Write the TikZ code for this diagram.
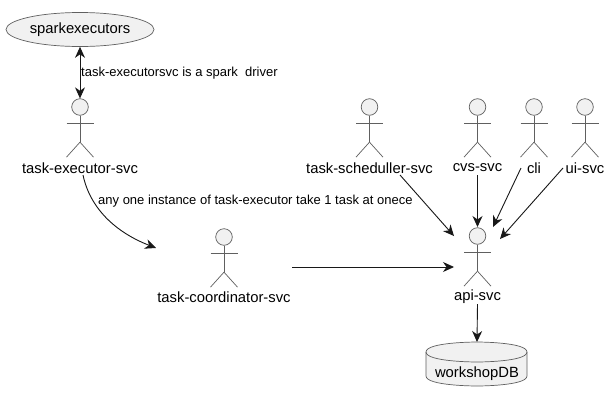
\documentclass[tikz,border=0pt]{standalone}
\usepackage{fontspec}
\setmainfont{Liberation Sans}
\usetikzlibrary{shapes.geometric,arrows.meta,calc}
\definecolor{umlfill}{HTML}{F1F1F1}
\definecolor{umlline}{HTML}{181818}
\definecolor{umlthin}{HTML}{606060}
\tikzset{
  head/.style={circle,draw=umlthin,fill=umlfill,line width=0.7pt,minimum size=16.6pt,inner sep=0pt},
  limb/.style={draw=umlthin,line width=0.7pt},
  actorname/.style={font=\fontsize{14.8}{17}\selectfont,inner sep=0pt,text=black},
  edgetext/.style={font=\fontsize{13}{15}\selectfont,inner sep=0pt,text=black,anchor=west},
  flow/.style={draw=umlline,line width=0.9pt,-{Stealth[length=11pt,width=10pt,inset=3.5pt]}},
  flowboth/.style={draw=umlline,line width=0.9pt,{Stealth[length=11pt,width=10pt,inset=3.5pt]}-{Stealth[length=11pt,width=10pt,inset=3.5pt]}},
  usecase/.style={ellipse,draw=umlthin,fill=umlfill,line width=0.7pt,minimum width=148pt,minimum height=34pt,inner sep=0pt,font=\fontsize{14.8}{17}\selectfont}
}
\newcommand{\umlactor}[5]{% id, x, head y, label y, text
  \node[head] (#1) at (#2,#3) {};
  \draw[limb] (#1.south) -- ++(0,26.5) coordinate (#1hip);
  \draw[limb] ($(#1)+(-13.5,16)$) -- ($(#1)+(13.5,16)$);
  \draw[limb] (#1hip) -- ++(-13.5,15);
  \draw[limb] (#1hip) -- ++(13.5,15);
  \node[actorname] (#1name) at (#2,#4) {#5};
}
\begin{document}
\begin{tikzpicture}[x=1pt,y=-1pt]
\useasboundingbox (0,0) rectangle (610,402);
\fill[white] (0,0) rectangle (610,402);

\node[usecase] (spark) at (80,29.5) {sparkexecutors};

\umlactor{exec}{80}{107}{167.8}{task-executor-svc}
\umlactor{sched}{369.5}{107}{167.8}{task-scheduller-svc}
\umlactor{cvs}{477.5}{107}{167.8}{cvs-svc}
\umlactor{cli}{534}{107}{167.8}{cli}
\umlactor{ui}{585}{107}{167.8}{ui-svc}
\umlactor{coord}{224}{237}{296.8}{task-coordinator-svc}
\umlactor{api}{477.5}{236}{296.8}{api-svc}

% workshopDB cylinder
\path[draw=umlthin,fill=umlfill,line width=0.7pt]
  (426,352) .. controls (426,342) and (477,342) .. (477,342)
  .. controls (477,342) and (527,342) .. (527,352)
  -- (527,376)
  .. controls (527,386) and (477,386) .. (477,386)
  .. controls (477,386) and (426,386) .. (426,376) -- cycle;
\draw[draw=umlthin,line width=0.7pt]
  (426,352) .. controls (426,362) and (477,362) .. (477,362)
  .. controls (477,362) and (527,362) .. (527,352);
\node[actorname] (db) at (477,373.5) {workshopDB};
\coordinate (dbtop) at (477,342);

% connector ends
\coordinate (schedout) at (400,175);
\coordinate (schedin) at (454,236);
\coordinate (cvsout) at (477.5,175);
\coordinate (cvsin) at (477.5,227);
\coordinate (cliout) at (521,168);
\coordinate (cliin) at (493,227);
\coordinate (uiout) at (563,168);
\coordinate (uiin) at (500,239);
\coordinate (coordout) at (292,267);
\coordinate (coordin) at (454,267);
\coordinate (execout) at (83,175);
\coordinate (execin) at (156,248);
\coordinate (apiout) at (477.5,304);

\draw[flowboth] (spark.south) -- (exec.north);
\draw[flow] (execout) .. controls (90,208) and (115,232) .. (execin);
\draw[flow] (schedout) -- (schedin);
\draw[flow] (cvsout) -- (cvsin);
\draw[flow] (cliout) -- (cliin);
\draw[flow] (uiout) -- (uiin);
\draw[flow] (coordout) -- (coordin);
\draw[flow] (apiout) -- (dbtop);

\node[edgetext] (lblspark) at (81,73.6) {task-executorsvc is a spark\ \ driver};
\node[edgetext] (lblany) at (98,201.6) {any one instance of task-executor take 1 task at onece};
\end{tikzpicture}
\end{document}
